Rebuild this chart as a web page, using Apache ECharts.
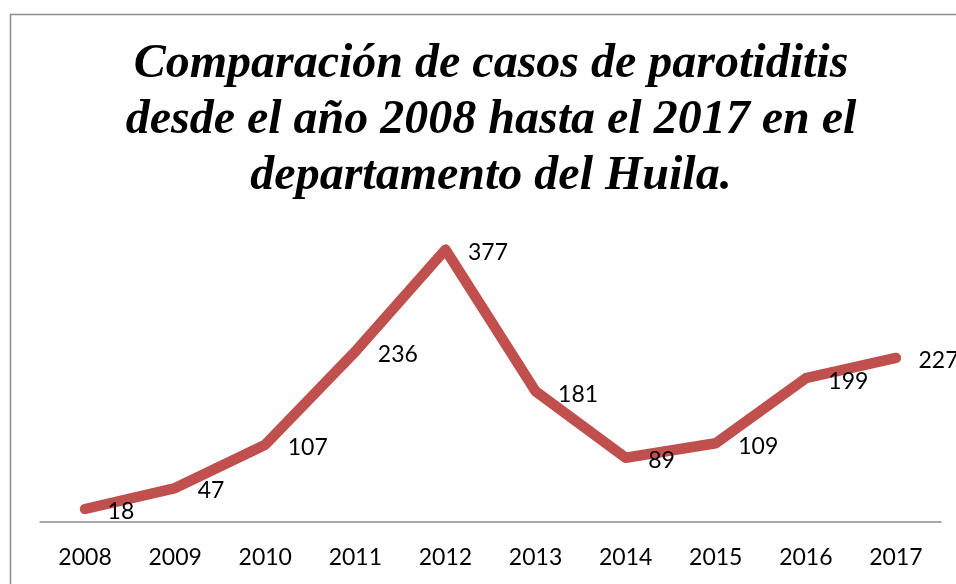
<!DOCTYPE html>
<html>
<head>
<meta charset="utf-8">
<title>Casos de parotiditis Huila</title>
<script src="https://cdn.jsdelivr.net/npm/echarts@6/dist/echarts.min.js"></script>
<style>
  html, body { margin: 0; padding: 0; background: #fff; }
  #chart { width: 956px; height: 584px; }
</style>
</head>
<body>
<div id="chart"></div>
<script>
// datos
const years = ['2008', '2009', '2010', '2011', '2012', '2013', '2014', '2015', '2016', '2017'];
const cases = [18, 47, 107, 236, 377, 181, 89, 109, 199, 227];

const chart = echarts.init(document.getElementById('chart'));

const option = {
  animation: false,
  backgroundColor: '#ffffff',
  title: {
    text: 'Comparación de casos de parotiditis\ndesde el año 2008 hasta el 2017 en el\ndepartamento del Huila.',
    left: 486,
    top: 32,
    textAlign: 'center',
    textStyle: {
      fontFamily: 'Liberation Serif',
      fontStyle: 'italic',
      fontWeight: 'bold',
      fontSize: 48,
      lineHeight: 56,
      color: '#000'
    }
  },
  graphic: [
    {
      type: 'rect',
      shape: { x: 10.5, y: 14.5, width: 960, height: 600 },
      style: { fill: 'none', stroke: '#8c8c8c', lineWidth: 1.5 },
      silent: true
    }
  ],
  grid: {
    left: 40,
    right: 15,
    top: 233,
    bottom: 62
  },
  xAxis: {
    type: 'category',
    data: years,
    boundaryGap: true,
    axisLine: { lineStyle: { color: '#8c8c8c', width: 1.5 } },
    axisTick: { show: false },
    axisLabel: {
      margin: 24,
      fontFamily: 'Lato',
      fontSize: 23,
      color: '#000'
    }
  },
  yAxis: {
    type: 'value',
    min: 0,
    max: 400,
    show: false
  },
  series: [
    {
      name: 'Casos',
      type: 'line',
      data: cases,
      symbol: 'circle',
      symbolSize: 1,
      itemStyle: { color: 'rgba(0,0,0,0)', borderWidth: 0 },
      lineStyle: { color: '#C0504D', width: 10.5, cap: 'round', join: 'round' },
      label: {
        show: true,
        position: 'right',
        distance: 22,
        offset: [0, 3],
        fontFamily: 'Lato',
        fontSize: 23,
        color: '#000'
      }
    }
  ]
};

chart.setOption(option);
</script>
</body>
</html>
